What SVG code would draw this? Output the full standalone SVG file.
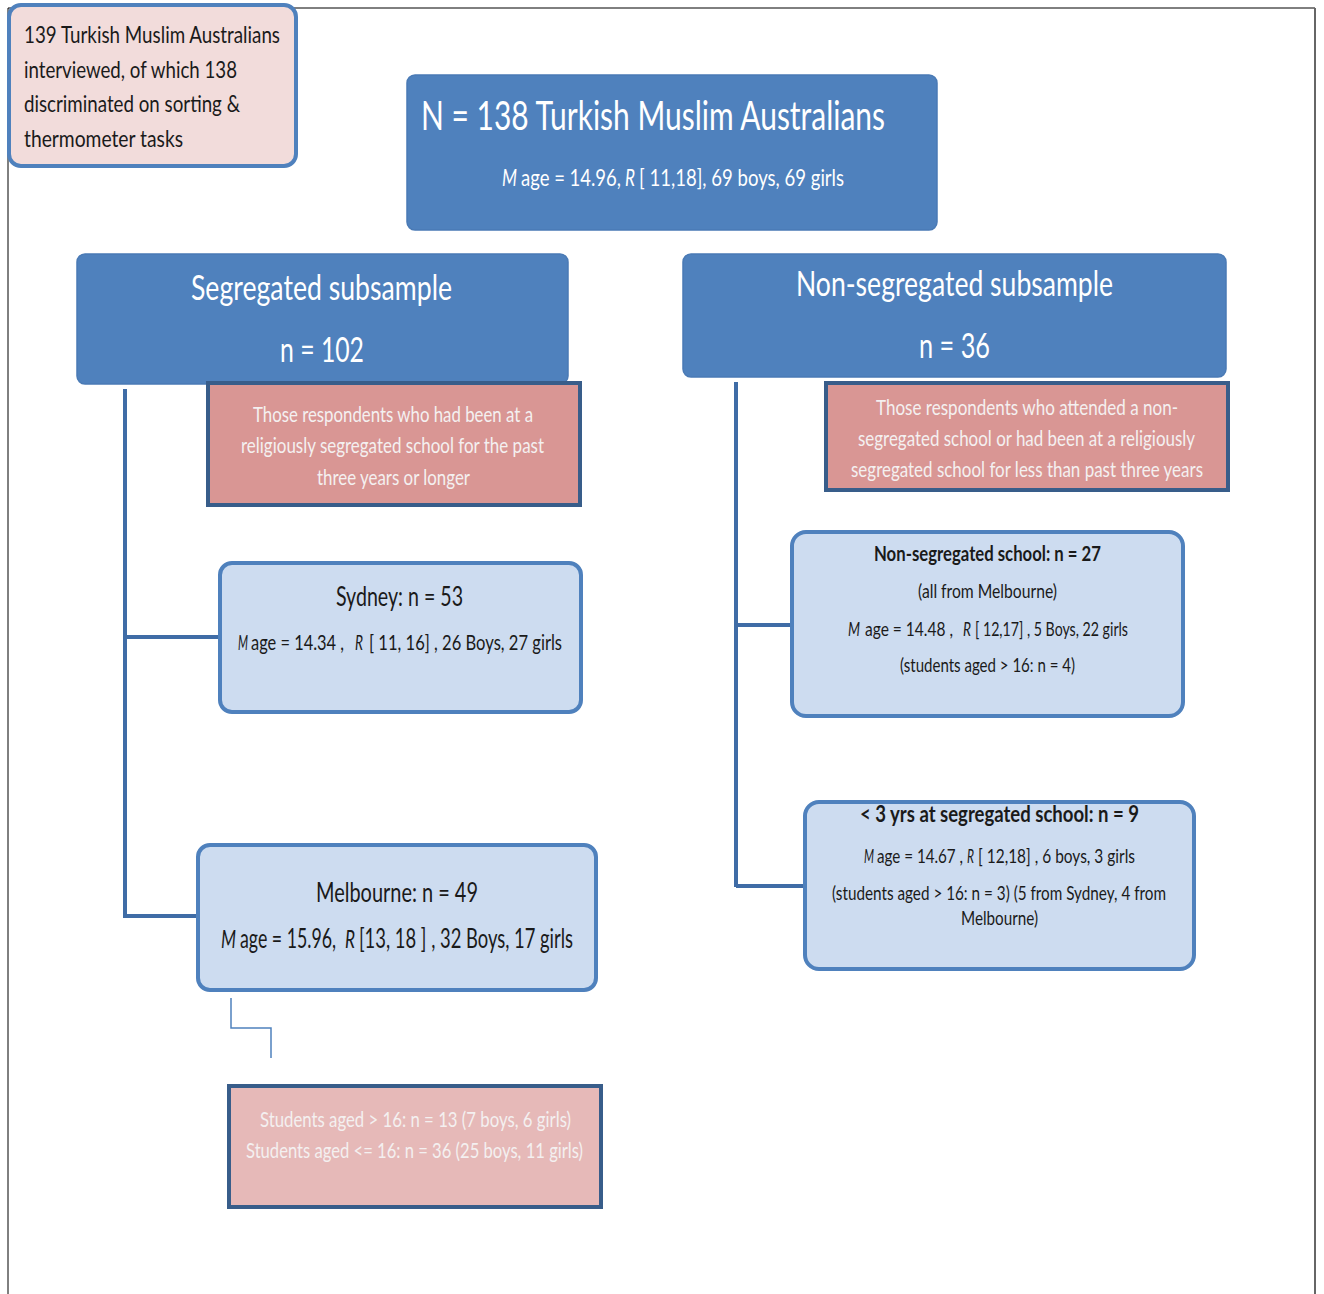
<svg xmlns="http://www.w3.org/2000/svg" width="1324" height="1294" viewBox="0 0 1324 1294">
<style>
text{font-family:Lato,"Noto Sans","Liberation Sans",sans-serif;}
.dk{fill:#1a1a1a;}
.wt{fill:#ffffff;}
.pk{fill:#f4f0f0;}
.it{font-style:italic;}
.blue{fill:#4f81bd;stroke:#4a7ab5;stroke-width:1.5;}
.light{fill:#cddcf0;stroke:#4f81bd;stroke-width:4;}
.rose{fill:#d99694;stroke:#385d8a;stroke-width:4;}
.rose2{fill:#e6b9b8;stroke:#385d8a;stroke-width:4;}
.conn{fill:none;stroke:#3f6ca6;stroke-width:4;}
.thin{fill:none;stroke:#4f81bd;stroke-width:1.5;}
</style>
<rect x="0" y="0" width="1324" height="1294" fill="#ffffff"/>
<g id="page">
<line x1="8" y1="8" x2="1315" y2="8" stroke="#000" stroke-width="1"/>
<line x1="8" y1="8" x2="8" y2="1294" stroke="#000" stroke-width="1"/>
<line x1="1315" y1="8" x2="1315" y2="1294" stroke="#666" stroke-width="2"/>
</g>
<g id="connectors">
<polyline class="conn" points="125,389 125,918"/>
<line class="conn" x1="125" y1="637" x2="221" y2="637"/>
<line class="conn" x1="125" y1="916" x2="199" y2="916"/>
<polyline class="conn" points="736,382 736,887"/>
<line class="conn" x1="736" y1="625" x2="792" y2="625"/>
<line class="conn" x1="736" y1="886" x2="806" y2="886"/>
<polyline class="thin" points="231,998 231,1028 271,1028 271,1058"/>
</g>
<g id="note">
<rect x="9" y="5" width="287" height="161" rx="12" fill="#f2dcdb" stroke="#4f81bd" stroke-width="4"/>
<text class="dk" x="24" y="43" font-size="24" textLength="256" lengthAdjust="spacingAndGlyphs">139 Turkish Muslim Australians</text>
<text class="dk" x="24" y="78" font-size="24" textLength="213" lengthAdjust="spacingAndGlyphs">interviewed, of which 138</text>
<text class="dk" x="24" y="112" font-size="24" textLength="216" lengthAdjust="spacingAndGlyphs">discriminated on sorting &amp;</text>
<text class="dk" x="24" y="147" font-size="24" textLength="159" lengthAdjust="spacingAndGlyphs">thermometer tasks</text>
</g>
<g id="total">
<rect class="blue" x="407" y="75" width="530" height="155" rx="8"/>
<text class="wt" x="421" y="130" font-size="40" textLength="464" lengthAdjust="spacingAndGlyphs">N = 138 Turkish Muslim Australians</text>
<text class="wt it" x="502" y="186" font-size="24" textLength="15" lengthAdjust="spacingAndGlyphs">M</text>
<text class="wt" x="521" y="186" font-size="24" textLength="100" lengthAdjust="spacingAndGlyphs">age = 14.96,</text>
<text class="wt it" x="625" y="186" font-size="24" textLength="10" lengthAdjust="spacingAndGlyphs">R</text>
<text class="wt" x="639" y="186" font-size="24" textLength="205" lengthAdjust="spacingAndGlyphs">[ 11,18], 69 boys, 69 girls</text>
</g>
<g id="segregated">
<rect class="blue" x="77" y="254" width="491" height="130" rx="8"/>
<text class="wt" x="191" y="300" font-size="34" textLength="261" lengthAdjust="spacingAndGlyphs">Segregated subsample</text>
<text class="wt" x="280" y="362" font-size="34" textLength="84" lengthAdjust="spacingAndGlyphs">n = 102</text>
</g>
<g id="seg-def">
<rect class="rose" x="208" y="383" width="372" height="122"/>
<text class="pk" x="253" y="422" font-size="22" textLength="280" lengthAdjust="spacingAndGlyphs">Those respondents who had been at a</text>
<text class="pk" x="241" y="453" font-size="22" textLength="303" lengthAdjust="spacingAndGlyphs">religiously segregated school for the past</text>
<text class="pk" x="317" y="485" font-size="22" textLength="153" lengthAdjust="spacingAndGlyphs">three years or longer</text>
</g>
<g id="nonsegregated">
<rect class="blue" x="683" y="254" width="543" height="123" rx="8"/>
<text class="wt" x="796" y="296" font-size="34" textLength="317" lengthAdjust="spacingAndGlyphs">Non-segregated subsample</text>
<text class="wt" x="919" y="358" font-size="34" textLength="71" lengthAdjust="spacingAndGlyphs">n = 36</text>
</g>
<g id="nonseg-def">
<rect class="rose" x="826" y="383" width="402" height="107"/>
<text class="pk" x="876" y="415" font-size="21" textLength="302" lengthAdjust="spacingAndGlyphs">Those  respondents who attended a non-</text>
<text class="pk" x="858" y="446" font-size="21" textLength="337" lengthAdjust="spacingAndGlyphs">segregated school or had been at a religiously</text>
<text class="pk" x="851" y="477" font-size="21" textLength="352" lengthAdjust="spacingAndGlyphs">segregated school for less than past three years</text>
</g>
<g id="sydney">
<rect class="light" x="220" y="563" width="361" height="149" rx="12"/>
<text class="dk" x="336" y="606" font-size="26" textLength="127" lengthAdjust="spacingAndGlyphs">Sydney: n = 53</text>
<text class="dk it" x="238" y="650" font-size="22" textLength="10" lengthAdjust="spacingAndGlyphs">M</text>
<text class="dk" x="251" y="650" font-size="22" textLength="93" lengthAdjust="spacingAndGlyphs">age = 14.34 ,</text>
<text class="dk it" x="355" y="650" font-size="22" textLength="8" lengthAdjust="spacingAndGlyphs">R</text>
<text class="dk" x="369" y="650" font-size="22" textLength="193" lengthAdjust="spacingAndGlyphs">[ 11, 16] , 26 Boys, 27 girls</text>
</g>
<g id="melbourne">
<rect class="light" x="198" y="845" width="398" height="145" rx="12"/>
<text class="dk" x="316" y="902" font-size="27" textLength="162" lengthAdjust="spacingAndGlyphs">Melbourne: n = 49</text>
<text class="dk it" x="221" y="948" font-size="26" textLength="15" lengthAdjust="spacingAndGlyphs">M</text>
<text class="dk" x="240" y="948" font-size="26" textLength="96" lengthAdjust="spacingAndGlyphs">age = 15.96,</text>
<text class="dk it" x="345" y="948" font-size="26" textLength="10" lengthAdjust="spacingAndGlyphs">R</text>
<text class="dk" x="359" y="948" font-size="26" textLength="214" lengthAdjust="spacingAndGlyphs">[13, 18 ] , 32 Boys, 17 girls</text>
</g>
<g id="melb-ages">
<rect class="rose2" x="229" y="1086" width="372" height="121"/>
<text class="pk" x="260" y="1127" font-size="22" textLength="311" lengthAdjust="spacingAndGlyphs">Students aged &gt; 16: n = 13 (7 boys, 6 girls)</text>
<text class="pk" x="246" y="1158" font-size="22" textLength="337" lengthAdjust="spacingAndGlyphs">Students aged &lt;= 16: n = 36 (25 boys, 11 girls)</text>
</g>
<g id="nonseg-school">
<rect class="light" x="792" y="532" width="391" height="184" rx="14"/>
<text class="dk" x="874" y="561" font-size="21" font-weight="bold" textLength="227" lengthAdjust="spacingAndGlyphs">Non-segregated school: n = 27</text>
<text class="dk" x="918" y="598" font-size="19" textLength="139" lengthAdjust="spacingAndGlyphs">(all from Melbourne)</text>
<text class="dk it" x="848" y="636" font-size="19" textLength="12" lengthAdjust="spacingAndGlyphs">M</text>
<text class="dk" x="865" y="636" font-size="19" textLength="88" lengthAdjust="spacingAndGlyphs">age = 14.48 ,</text>
<text class="dk it" x="963" y="636" font-size="19" textLength="8" lengthAdjust="spacingAndGlyphs">R</text>
<text class="dk" x="975" y="636" font-size="19" textLength="153" lengthAdjust="spacingAndGlyphs">[ 12,17] , 5 Boys, 22 girls</text>
<text class="dk" x="900" y="672" font-size="19" textLength="175" lengthAdjust="spacingAndGlyphs">(students  aged &gt; 16: n = 4)</text>
</g>
<g id="lt3yrs">
<rect class="light" x="805" y="802" width="389" height="167" rx="14"/>
<text class="dk" x="860" y="822" font-size="23" font-weight="bold" textLength="279" lengthAdjust="spacingAndGlyphs">&lt; 3 yrs at segregated school: n = 9</text>
<text class="dk it" x="864" y="863" font-size="19" textLength="10" lengthAdjust="spacingAndGlyphs">M</text>
<text class="dk" x="877" y="863" font-size="19" textLength="86" lengthAdjust="spacingAndGlyphs">age = 14.67 ,</text>
<text class="dk it" x="967" y="863" font-size="19" textLength="7" lengthAdjust="spacingAndGlyphs">R</text>
<text class="dk" x="978" y="863" font-size="19" textLength="157" lengthAdjust="spacingAndGlyphs">[ 12,18] , 6 boys, 3 girls</text>
<text class="dk" x="832" y="900" font-size="19" textLength="334" lengthAdjust="spacingAndGlyphs">(students aged &gt; 16: n = 3)  (5 from Sydney,  4 from</text>
<text class="dk" x="961" y="925" font-size="19" textLength="77" lengthAdjust="spacingAndGlyphs">Melbourne)</text>
</g>
</svg>
